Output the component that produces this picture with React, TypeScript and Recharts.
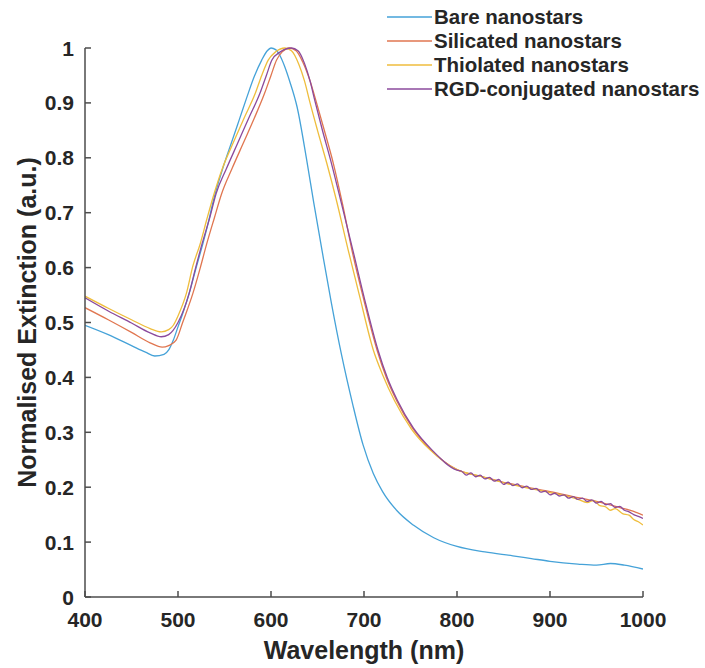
import React from 'react';
import { LineChart, Line, XAxis, YAxis, Legend } from 'recharts';

// ---- Data (wavelength in nm, normalised extinction) ----
const bareNm = [400, 425, 450, 465, 475, 485, 490, 495, 500, 505, 512, 520, 527, 533, 538, 548, 558, 566, 574, 582, 590, 596, 600, 605, 610, 615, 620, 628, 638, 646, 655, 665, 676, 688, 699, 710, 720, 735, 753, 775, 800, 830, 860, 880, 900, 930, 950, 965, 980, 1000];
const bareExt = [0.495, 0.478, 0.458, 0.446, 0.439, 0.442, 0.450, 0.468, 0.492, 0.516, 0.553, 0.603, 0.645, 0.685, 0.722, 0.780, 0.830, 0.870, 0.910, 0.948, 0.978, 0.995, 1.0, 0.997, 0.985, 0.965, 0.940, 0.893, 0.800, 0.718, 0.630, 0.535, 0.440, 0.350, 0.277, 0.225, 0.192, 0.158, 0.131, 0.108, 0.092, 0.082, 0.075, 0.070, 0.065, 0.060, 0.058, 0.061, 0.058, 0.051];

const silNm = [400, 425, 450, 470, 483, 490, 498, 505, 516, 524, 531, 539, 547, 558, 570, 582, 593, 600, 606, 612, 620, 627, 634, 642, 649, 657, 667, 677, 687, 700, 714, 724, 735, 752, 772, 800, 825, 850, 875, 900, 925, 950, 975, 990, 1000];
const silExt = [0.527, 0.505, 0.482, 0.463, 0.455, 0.458, 0.468, 0.500, 0.553, 0.600, 0.644, 0.690, 0.735, 0.780, 0.826, 0.872, 0.917, 0.950, 0.978, 0.993, 1.0, 0.995, 0.975, 0.940, 0.900, 0.852, 0.790, 0.715, 0.632, 0.540, 0.450, 0.400, 0.358, 0.308, 0.268, 0.232, 0.220, 0.209, 0.200, 0.192, 0.183, 0.174, 0.163, 0.156, 0.149];

const thiNm = [400, 425, 450, 470, 482, 490, 495, 500, 509, 516, 524, 531, 538, 548, 559, 571, 583, 590, 597, 605, 615, 622, 630, 636, 642, 650, 660, 670, 683, 695, 710, 720, 733, 751, 771, 800, 825, 850, 875, 900, 920, 930, 940, 947, 953, 960, 965, 970, 978, 985, 990, 995, 1000];
const thiExt = [0.548, 0.526, 0.505, 0.489, 0.483, 0.487, 0.495, 0.512, 0.553, 0.603, 0.644, 0.688, 0.730, 0.782, 0.826, 0.872, 0.917, 0.950, 0.978, 0.993, 1.0, 0.995, 0.970, 0.940, 0.900, 0.850, 0.790, 0.725, 0.632, 0.550, 0.450, 0.405, 0.357, 0.306, 0.268, 0.232, 0.220, 0.208, 0.199, 0.190, 0.183, 0.178, 0.172, 0.176, 0.167, 0.164, 0.158, 0.161, 0.152, 0.149, 0.141, 0.137, 0.131];

const rgdNm = [400, 425, 450, 470, 482, 490, 500, 512, 519, 526, 534, 541, 552, 564, 576, 588, 595, 601, 610, 622, 629, 636, 642, 647, 655, 665, 676, 688, 701, 715, 725, 736, 753, 773, 800, 805, 810, 815, 820, 825, 830, 835, 840, 845, 850, 855, 860, 865, 870, 875, 880, 885, 890, 895, 900, 905, 910, 915, 920, 925, 930, 935, 940, 945, 950, 955, 960, 965, 970, 975, 980, 985, 990, 995, 1000];
const rgdExt = [0.545, 0.521, 0.499, 0.481, 0.474, 0.478, 0.500, 0.553, 0.600, 0.644, 0.690, 0.735, 0.780, 0.826, 0.872, 0.917, 0.950, 0.978, 0.993, 1.0, 0.995, 0.972, 0.940, 0.905, 0.852, 0.790, 0.715, 0.632, 0.540, 0.450, 0.400, 0.358, 0.308, 0.268, 0.231, 0.229, 0.222, 0.226, 0.219, 0.222, 0.215, 0.218, 0.211, 0.214, 0.205, 0.209, 0.203, 0.206, 0.199, 0.202, 0.196, 0.198, 0.191, 0.193, 0.186, 0.189, 0.184, 0.186, 0.180, 0.183, 0.178, 0.180, 0.174, 0.177, 0.171, 0.174, 0.168, 0.170, 0.163, 0.165, 0.158, 0.155, 0.150, 0.147, 0.143];

const seriesNames = ['Bare nanostars', 'Silicated nanostars', 'Thiolated nanostars', 'RGD-conjugated nanostars'];
const seriesColors = ['#45a2d8', '#e07650', '#efbd3c', '#8b4a9c'];

const xTicks = [400, 500, 600, 700, 800, 900, 1000];
const yTicks = [0, 0.1, 0.2, 0.3, 0.4, 0.5, 0.6, 0.7, 0.8, 0.9, 1];
const yTickLabels = ['0', '0.1', '0.2', '0.3', '0.4', '0.5', '0.6', '0.7', '0.8', '0.9', '1'];

const xTitle = 'Wavelength (nm)';
const yTitle = 'Normalised Extinction (a.u.)';

const toPoints = (nm: number[], v: number[]) => nm.map((x, i) => ({ x, y: v[i] }));
const seriesData = [
  toPoints(bareNm, bareExt),
  toPoints(silNm, silExt),
  toPoints(thiNm, thiExt),
  toPoints(rgdNm, rgdExt),
];

const FONT = '"Liberation Sans", Arial, sans-serif';
const AXIS = '#4d4d4d';
const TEXT = '#262626';

const XTick = (props: any) => {
  const { x, y, payload } = props;
  return (
    <g>
      <line x1={x} x2={x} y1={y} y2={y - 6} stroke={AXIS} strokeWidth={1.5} />
      <text x={x} y={y + 30} textAnchor="middle" fontFamily={FONT} fontWeight="bold" fontSize={21} fill={TEXT}>
        {payload.value}
      </text>
    </g>
  );
};

const YTick = (props: any) => {
  const { x, y, payload } = props;
  const idx = yTicks.indexOf(payload.value);
  const label = idx >= 0 ? yTickLabels[idx] : String(payload.value);
  return (
    <g>
      <line x1={x} x2={x + 6} y1={y} y2={y} stroke={AXIS} strokeWidth={1.5} />
      <text x={x - 11} y={y} dy="0.36em" textAnchor="end" fontFamily={FONT} fontWeight="bold" fontSize={21} fill={TEXT}>
        {label}
      </text>
    </g>
  );
};

const LegendContent = (props: any) => {
  const items = [...(props.payload || [])].sort(
    (a: any, b: any) => seriesNames.indexOf(a.value) - seriesNames.indexOf(b.value)
  );
  return (
    <div style={{ fontFamily: FONT, fontWeight: 'bold', fontSize: 20.5, color: TEXT }}>
      {items.map((entry: any, i: number) => (
        <div key={i} style={{ display: 'flex', alignItems: 'center', height: 24 }}>
          <svg width={47} height={24} style={{ display: 'block' }}>
            <line x1={1} x2={46} y1={12} y2={12} stroke={entry.color} strokeWidth={1.3} />
          </svg>
          <span style={{ marginLeft: 1, whiteSpace: 'nowrap', lineHeight: '24px' }}>{entry.value}</span>
        </div>
      ))}
    </div>
  );
};

export default function App() {
  return (
    <div style={{ position: 'absolute', left: 0, top: 0, width: 705, height: 668, background: '#fff' }}>
      <LineChart width={705} height={668} margin={{ top: 48, right: 62, bottom: 0, left: 0 }}>
        <XAxis
          dataKey="x"
          type="number"
          domain={[400, 1000]}
          ticks={xTicks}
          allowDataOverflow
          height={71}
          axisLine={{ stroke: AXIS, strokeWidth: 1.5 }}
          tickLine={false}
          tickSize={0}
          tickMargin={0}
          tick={<XTick />}
          interval={0}
          label={{
            content: (p: any) => {
              const vb = p.viewBox;
              return (
                <text x={vb.x + vb.width / 2} y={vb.y + 62} textAnchor="middle" fontFamily={FONT} fontWeight="bold" fontSize={25} fill={TEXT}>
                  {xTitle}
                </text>
              );
            },
          }}
        />
        <YAxis
          type="number"
          domain={[0, 1]}
          ticks={yTicks}
          width={85}
          axisLine={{ stroke: AXIS, strokeWidth: 1.5 }}
          tickLine={false}
          tickSize={0}
          tickMargin={0}
          tick={<YTick />}
          interval={0}
          label={{
            content: (p: any) => {
              const vb = p.viewBox;
              const cx = vb.x + 27;
              const cy = vb.y + vb.height / 2;
              return (
                <text x={cx} y={cy} transform={`rotate(-90 ${cx} ${cy})`} textAnchor="middle" dominantBaseline="central" fontFamily={FONT} fontWeight="bold" fontSize={25} fill={TEXT}>
                  {yTitle}
                </text>
              );
            },
          }}
        />
        <Legend
          layout="vertical"
          align="center"
          verticalAlign="middle"
          wrapperStyle={{ left: 386, top: 5, width: 320 }}
          content={<LegendContent />}
        />
        {seriesData.map((d, i) => (
          <Line
            key={seriesNames[i]}
            data={d}
            dataKey="y"
            name={seriesNames[i]}
            stroke={seriesColors[i]}
            strokeWidth={1.3}
            dot={false}
            activeDot={false}
            type="monotone"
            isAnimationActive={false}
          />
        ))}
      </LineChart>
    </div>
  );
}
